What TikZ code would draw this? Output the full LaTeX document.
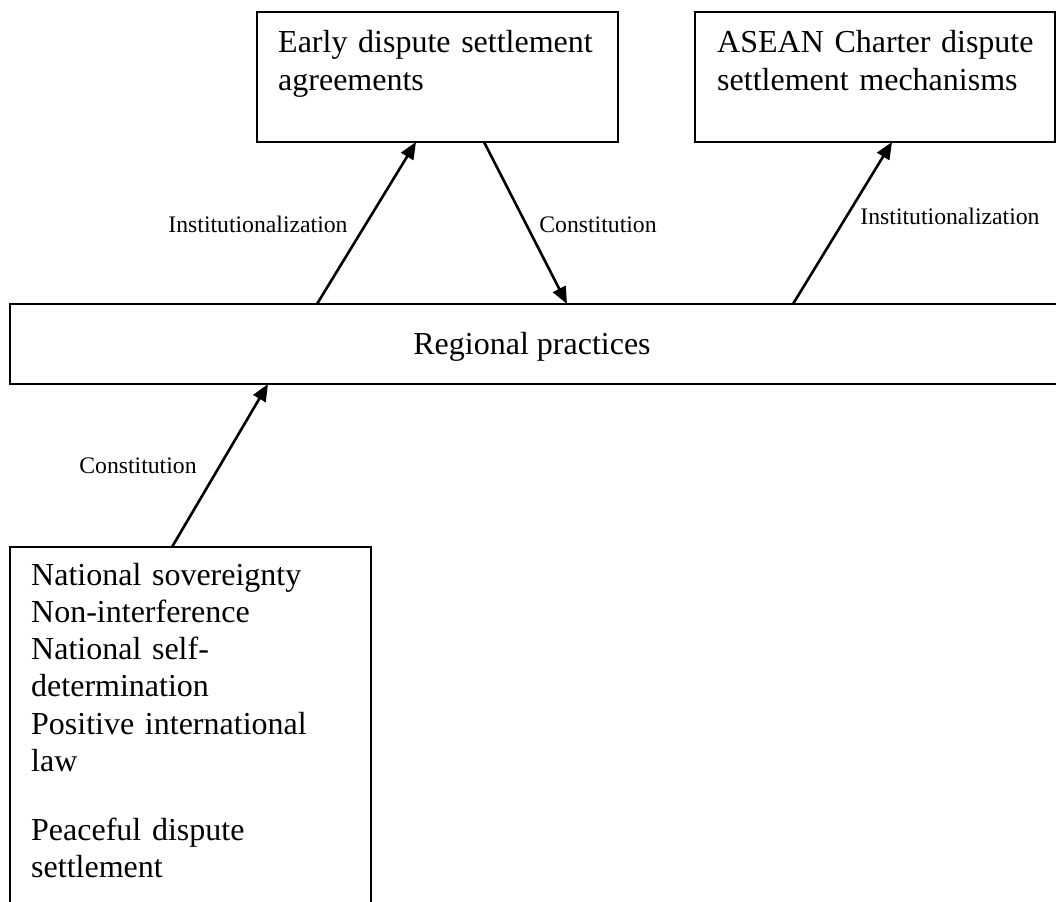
\documentclass[tikz,border=0pt]{standalone}
\usepackage{fontspec}
\setmainfont{Liberation Serif}
\usetikzlibrary{arrows.meta}
\begin{document}
\begin{tikzpicture}[x=1pt,y=-1pt,
  frame/.style={draw, line width=2pt, rectangle, inner sep=0pt, outer sep=0pt, anchor=north west},
  bigtext/.style={inner sep=0pt, anchor=base west, align=left, text width=420pt,
    font=\fontsize{32}{37.3}\selectfont},
  smalltext/.style={inner sep=0pt, anchor=base, font=\fontsize{23.7}{27}\selectfont},
  link/.style={line width=2.6pt, -{Triangle[length=17pt,width=14pt]}}]
\useasboundingbox (0,0) rectangle (1056,901);

% boxes
\node[frame, minimum width=361pt, minimum height=130pt] (early) at (257,12) {};
\node[frame, minimum width=360pt, minimum height=130pt] (asean) at (695,12) {};
\node[frame, minimum width=1060pt, minimum height=80pt] (reg) at (10,304) {};
\node[frame, minimum width=361pt, minimum height=370pt] (base) at (10,547) {};

% box texts
\node[bigtext] (earlyt) at (278,53) {Early dispute settlement\\agreements};
\node[bigtext] (aseant) at (717,53) {ASEAN Charter dispute\\settlement mechanisms};
\node[inner sep=0pt, anchor=base, font=\fontsize{32}{37.3}\selectfont] (regt) at (532,354) {Regional practices};
\node[bigtext] (baset) at (31,585) {National sovereignty\\Non-interference\\National self-\\determination\\Positive international\\law\\[31.7pt]Peaceful dispute\\settlement};

% connectors
\draw[link] ([xshift=307pt]reg.north west) -- ([xshift=159pt]early.south west);
\draw[link] ([xshift=227pt]early.south west) -- ([xshift=557pt]reg.north west);
\draw[link] ([xshift=783pt]reg.north west) -- ([xshift=197pt]asean.south west);
\draw[link] ([xshift=162pt]base.north west) -- ([xshift=258pt]reg.south west);

% connector labels
\node[smalltext] (l1) at (258,233) {Institutionalization};
\node[smalltext] (l2) at (598,233) {Constitution};
\node[smalltext] (l3) at (950,225) {Institutionalization};
\node[smalltext] (l4) at (138,473) {Constitution};
\end{tikzpicture}
\end{document}
